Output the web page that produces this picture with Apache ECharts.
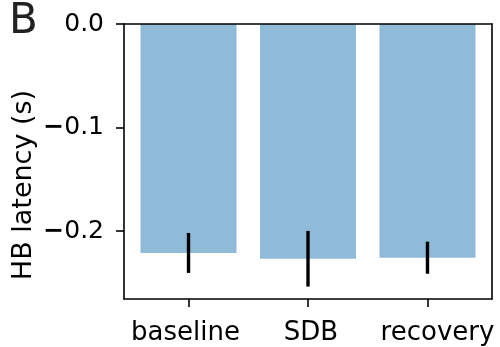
<!DOCTYPE html>
<html>
<head>
<meta charset="utf-8">
<script src="https://cdn.jsdelivr.net/npm/echarts@6/dist/echarts.min.js"></script>
<style>html,body{margin:0;padding:0;background:#fff}#c{width:500px;height:347px}</style>
</head>
<body>
<div id="c"></div>
<script>
var categories = ['baseline', 'SDB', 'recovery'];
var means = [-0.2212, -0.2268, -0.2258];
var errors = [0.0193, 0.0269, 0.0155];
var yTicks = [0, -0.1, -0.2];

var chart = echarts.init(document.getElementById('c'));
var font = 'DejaVu Sans';
var barData = means.map(function (m, i) { return [i, m]; });
var errData = means.map(function (m, i) { return [i, m - errors[i], m + errors[i]]; });
var labelStyle = function (pad) { return { fontFamily: font, fontSize: 26, color: '#000', padding: pad }; };

chart.setOption({
  animation: false,
  grid: { left: 124, right: 8, top: 24, bottom: 48 },
  xAxis: [{
    type: 'value', min: -0.54, max: 2.54, z: 10,
    axisLine: { show: true, onZero: false, lineStyle: { color: '#000', width: 1.6 } },
    axisTick: { show: true, inside: false, length: 8, customValues: [0, 1, 2], lineStyle: { color: '#000', width: 1.6 } },
    axisLabel: {
      customValues: [0, 1, 2],
      formatter: function (v) { var i = Math.round(v); return '{c' + i + '|' + categories[i] + '}'; },
      rich: { c0: labelStyle([0, 6, 0, 0]), c1: labelStyle([0, 0, 0, 6]), c2: labelStyle([0, 0, 0, 20]) },
      color: '#000', fontFamily: font, fontSize: 26, margin: 21
    },
    splitLine: { show: false }
  }, {
    type: 'value', position: 'top', min: -0.54, max: 2.54, z: 10,
    axisLine: { show: true, onZero: false, lineStyle: { color: '#000', width: 1.6 } },
    axisTick: { show: false }, axisLabel: { show: false }, splitLine: { show: false }
  }],
  yAxis: [{
    type: 'value', min: -0.2657, max: 0, z: 10,
    axisLine: { show: true, onZero: false, lineStyle: { color: '#000', width: 1.6 } },
    axisTick: { show: true, length: 8, customValues: yTicks, lineStyle: { color: '#000', width: 1.6 } },
    axisLabel: {
      customValues: yTicks,
      formatter: function (v) { return v === 0 ? '0.0' : '{m|\u2212}' + Math.abs(v).toFixed(1); },
      rich: { m: { fontFamily: font, fontSize: 25, fontWeight: 'bold', color: '#000' } },
      color: '#000', fontFamily: font, fontSize: 25, margin: 20
    },
    splitLine: { show: false }
  }, {
    type: 'value', position: 'right', min: -0.2657, max: 0, z: 10,
    axisLine: { show: true, onZero: false, lineStyle: { color: '#000', width: 1.6 } },
    axisTick: { show: false }, axisLabel: { show: false }, splitLine: { show: false }
  }],
  graphic: [
    { type: 'text', left: 9, top: 1, style: { text: 'B', font: '42px "DejaVu Sans"', fill: '#222' } },
    { type: 'text', x: 24, y: 185, rotation: Math.PI / 2, style: { text: 'HB latency (s)', font: '27px "DejaVu Sans"', fill: '#000', align: 'center', verticalAlign: 'middle' } }
  ],
  series: [{
    type: 'bar', xAxisIndex: 0, yAxisIndex: 0, data: barData, barWidth: 96,
    itemStyle: { color: '#8fbbd9' }
  }, {
    type: 'custom', xAxisIndex: 0, yAxisIndex: 0, data: errData, z: 5,
    renderItem: function (params, api) {
      var a = api.coord([api.value(0), api.value(1)]);
      var b = api.coord([api.value(0), api.value(2)]);
      return { type: 'line', shape: { x1: a[0], y1: a[1], x2: b[0], y2: b[1] }, style: { stroke: '#000', lineWidth: 3.4 } };
    }
  }]
});
</script>
</body>
</html>
